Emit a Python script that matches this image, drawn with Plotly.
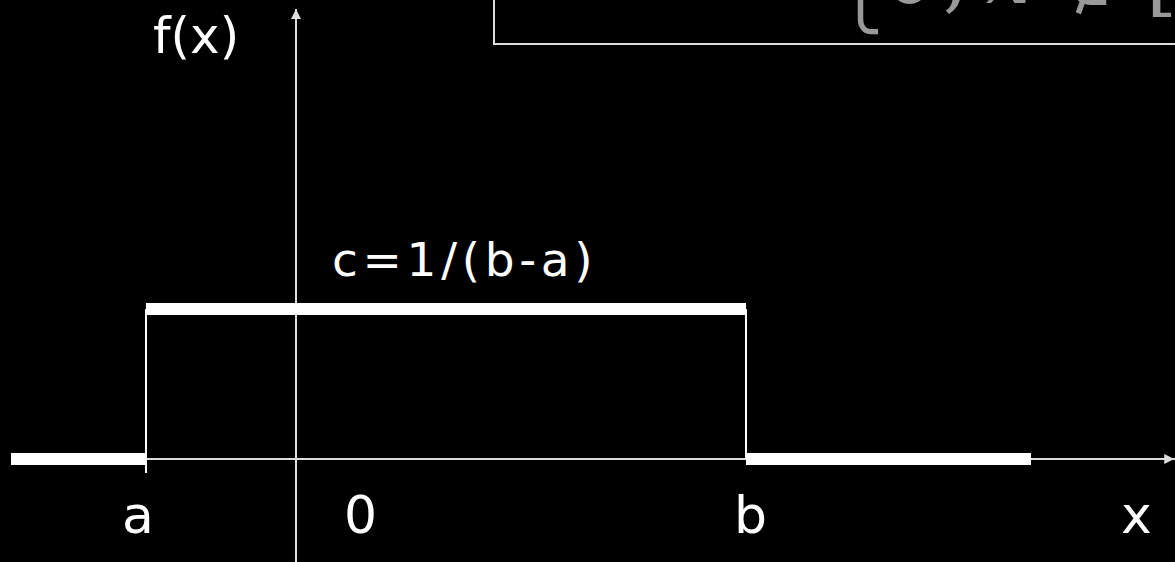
import plotly.graph_objects as go

# uniform distribution on [a, b]
a = -1.0
b = 3.0
c = 1 / (b - a)
x_left_end = -1.9
x_right_end = 4.9

# density pieces: outside left, inside, outside right
seg_x = [[x_left_end, a], [a, b], [b, x_right_end]]
seg_y = [[0, 0], [c, c], [0, 0]]

# axis labels under the x axis
tick_labels = ['a', '0', 'b', 'x']
tick_pos = [a, 0, b, 5.6]
tick_shift = [-8, 64, 4, 0]

x_range = [-1.9733, 5.86]
y_range = [-0.1717, 0.765]

W, H = 1175, 562
FONT = 'DejaVu Sans'
SERIF = 'DejaVu Serif'


def px(p):
    return p / W


def py(p):
    return 1 - p / H


fig = go.Figure()

# axes lines
fig.add_trace(go.Scatter(x=[x_left_end, x_range[1]], y=[0, 0], mode='lines',
                         line=dict(color='#dddddd', width=2), hoverinfo='skip'))
fig.add_trace(go.Scatter(x=[0, 0], y=[y_range[0], 0.75], mode='lines',
                         line=dict(color='#dddddd', width=2), hoverinfo='skip'))

# thin drop lines at a and b
fig.add_trace(go.Scatter(x=[a, a], y=[-0.0233, c], mode='lines',
                         line=dict(color='white', width=2), hoverinfo='skip'))
fig.add_trace(go.Scatter(x=[b, b], y=[0, c], mode='lines',
                         line=dict(color='white', width=2), hoverinfo='skip'))

# thick density segments
for xs, ys in zip(seg_x, seg_y):
    fig.add_trace(go.Scatter(x=xs, y=ys, mode='lines',
                             line=dict(color='white', width=12), hoverinfo='skip'))

annos = []
# arrow heads
annos.append(dict(x=x_range[1] - 0.005, y=0, ax=-12, ay=0, text='', showarrow=True,
                  arrowhead=2, arrowsize=1, arrowwidth=2, arrowcolor='#dddddd',
                  xref='x', yref='y'))
annos.append(dict(x=0, y=0.75, ax=0, ay=12, text='', showarrow=True,
                  arrowhead=2, arrowsize=1, arrowwidth=2, arrowcolor='#dddddd',
                  xref='x', yref='y'))

for lab, pos, sh in zip(tick_labels, tick_pos, tick_shift):
    annos.append(dict(x=pos, y=0, xref='x', yref='y', text=lab, showarrow=False,
                      xanchor='center', yanchor='middle', xshift=sh, yshift=-56,
                      font=dict(family=FONT, size=52, color='white')))

annos.append(dict(x=px(196), y=py(36), xref='paper', yref='paper', text='f(x)',
                  showarrow=False, xanchor='center', yanchor='middle',
                  font=dict(family=FONT, size=50, color='white')))

hs = '\u200a'
annos.append(dict(x=0, y=c, xref='x', yref='y', text=hs.join('c=1/(b-a)'),
                  showarrow=False, xanchor='left', yanchor='middle',
                  xshift=34, yshift=49,
                  font=dict(family=FONT, size=47, color='white')))

# cropped formula in the box at the top
formula = [('\u23a9', 836, -1, FONT, 60), ('0', 882, -24, SERIF, 80),
           (',', 941, -24, SERIF, 80), ('<i>x</i>', 984, -24, SERIF, 78),
           ('\u2209', 1060, -19, SERIF, 70), ('[', 1144, -22, SERIF, 80)]
for txt, xp, yp, fam, sz in formula:
    annos.append(dict(x=px(xp), y=py(yp), xref='paper', yref='paper', text=txt,
                      showarrow=False, xanchor='left', yanchor='middle',
                      font=dict(family=fam, size=sz, color='#999999')))

fig.update_layout(
    width=W, height=H,
    margin=dict(l=0, r=0, t=0, b=0),
    paper_bgcolor='black', plot_bgcolor='black',
    showlegend=False,
    xaxis=dict(range=x_range, visible=False, fixedrange=True),
    yaxis=dict(range=y_range, visible=False, fixedrange=True),
    annotations=annos,
    shapes=[dict(type='rect', xref='paper', yref='paper',
                 x0=px(494), x1=px(1185), y0=py(44), y1=py(-10),
                 line=dict(color='#dddddd', width=2))],
)

fig.write_html("out.html", config={'displayModeBar': False},
               post_script="document.body.style.margin='0';"
                           "document.body.style.background='black';")
